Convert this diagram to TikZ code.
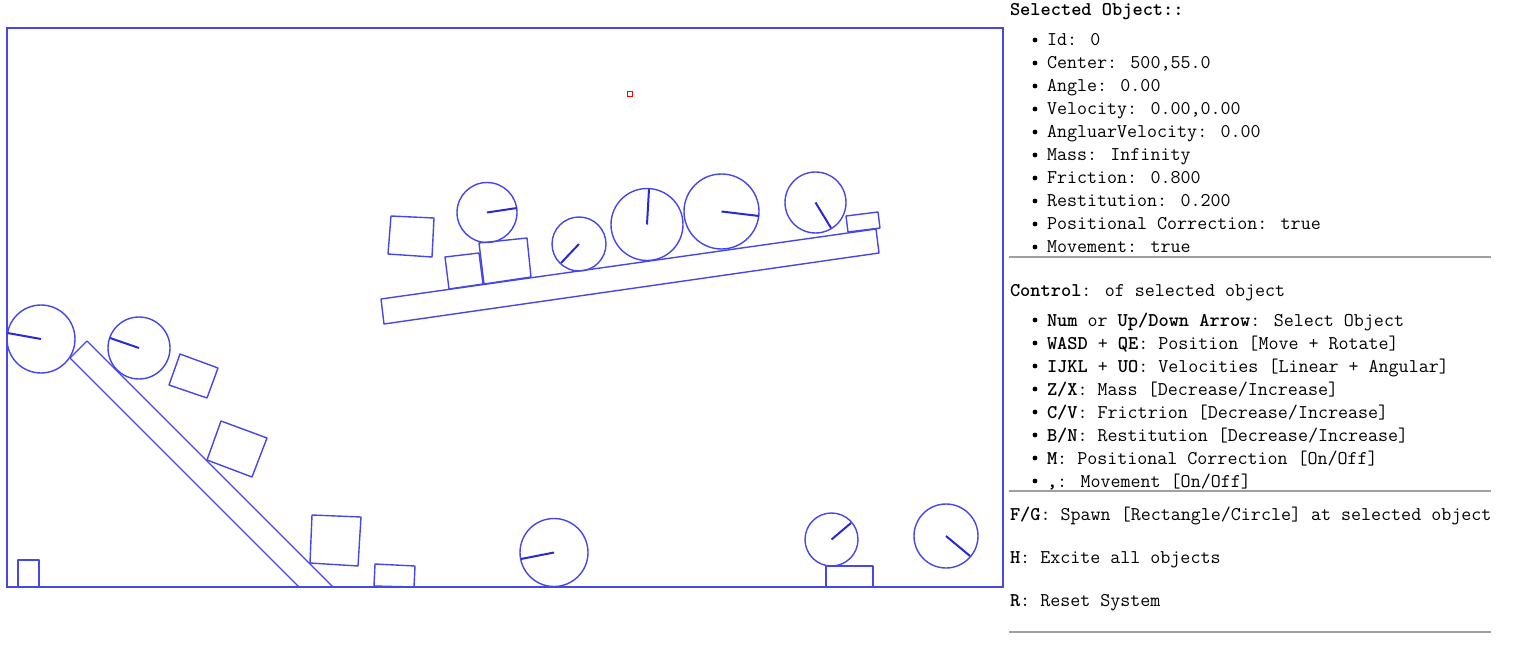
\documentclass[tikz,border=0pt]{standalone}
\usepackage{fontspec}
\definecolor{objblue}{RGB}{70,70,235}
\definecolor{radblue}{RGB}{40,40,215}
\definecolor{hrgray}{RGB}{160,160,160}
\tikzset{
  obj/.style={draw=objblue, line width=1.4pt, line join=round},
  radline/.style={draw=radblue, line width=2pt},
  frame/.style={draw=objblue, line width=1.8pt},
  hrule/.style={draw=hrgray, line width=1.2pt},
  txt/.style={anchor=base west, inner sep=0pt, outer sep=0pt, text=black,
    font=\ttfamily\fontsize{19.45}{23}\selectfont},
  bul/.style={fill=black, draw=none},
}
\begin{document}
\begin{tikzpicture}[x=1pt, y=-1pt]
\useasboundingbox (0,0) rectangle (1540,655);
% canvas frame
\draw[frame] (7,587) -- (7,28) -- (1003,28) -- (1003,587) -- cycle;

% ramp (clipped at floor)
\draw[obj] (299,587) -- (70,358) -- (87,341) -- (333,587);
% small square bottom-left
\draw[obj] (18,587) -- (18,560) -- (39,560) -- (39,587);
% squares along the ramp
\draw[obj] (180,354) -- (218,368) -- (207,398) -- (169,385) -- cycle;
\draw[obj] (221,421) -- (267,438) -- (252,477) -- (207,460) -- cycle;
\draw[obj] (312,515) -- (361,517) -- (358,566) -- (310,563) -- cycle;
\draw[obj] (375,564) -- (415,566) -- (414,587) -- (374,586) -- cycle;
% circles near ramp
\coordinate (c1) at (41,339);
\draw[obj] (c1) circle (34);
\coordinate (e1) at (7.5,333);
\draw[radline] (c1) -- (e1);
\coordinate (c2) at (139,348);
\draw[obj] (c2) circle (31);
\coordinate (e2) at (110,338);
\draw[radline] (c2) -- (e2);

% plank
\draw[obj] (381,299) -- (876,229) -- (879,253) -- (384,324) -- cycle;
% boxes on plank
\draw[obj] (391,216) -- (434,218) -- (432,257) -- (388,254) -- cycle;
\draw[obj] (445,257) -- (479,253) -- (483,284) -- (449,289) -- cycle;
\draw[obj] (479,243) -- (527,238) -- (531,277) -- (484,284) -- cycle;
\draw[obj] (846,216) -- (878,212) -- (880,228) -- (848,232) -- cycle;
% circles on plank
\coordinate (cB) at (487,212.5);
\draw[obj] (cB) circle (30);
\coordinate (eB) at (517,208);
\draw[radline] (cB) -- (eB);
\coordinate (cE) at (579,244);
\draw[obj] (cE) circle (27);
\coordinate (eE) at (561,263);
\draw[radline] (cE) -- (eE);
\coordinate (cF) at (647,224.5);
\draw[obj] (cF) circle (36);
\coordinate (eF) at (649,189);
\draw[radline] (cF) -- (eF);
\coordinate (cG) at (721.5,211.5);
\draw[obj] (cG) circle (37.5);
\coordinate (eG) at (759,216);
\draw[radline] (cG) -- (eG);
\coordinate (cH) at (815.5,202.5);
\draw[obj] (cH) circle (30.5);
\coordinate (eH) at (831,228);
\draw[radline] (cH) -- (eH);

% floor objects
\coordinate (cJ) at (554,552.5);
\draw[obj] (cJ) circle (34);
\coordinate (eJ) at (521,559);
\draw[radline] (cJ) -- (eJ);
\coordinate (cK) at (831.5,539.5);
\draw[obj] (cK) circle (26.5);
\coordinate (eK) at (851,523);
\draw[radline] (cK) -- (eK);
\draw[obj] (826,587) -- (826,566) -- (873,566) -- (873,587);
\coordinate (cM) at (946,536);
\draw[obj] (cM) circle (32);
\coordinate (eM) at (970,556);
\draw[radline] (cM) -- (eM);

% selection marker
\draw[red, line width=1pt] (627,92) rectangle (632,97);

% ---- right panel ----
\node[txt] (title) at (1010,16) {\bfseries Selected Object::};
\foreach \y/\t [count=\i] in {46/{Id: 0}, 69/{Center: 500,55.0}, 92/{Angle: 0.00},
  115/{Velocity: 0.00,0.00}, 138/{AngluarVelocity: 0.00}, 161/{Mass: Infinity},
  184/{Friction: 0.800}, 207/{Restitution: 0.200}, 230/{Positional Correction: true},
  253/{Movement: true}} {
  \fill[bul] (1035,\y-6) circle (2.4);
  \node[txt] (prop\i) at (1047,\y) {\t};
}
\coordinate (h1a) at (1009,257); \coordinate (h1b) at (1491,257);
\draw[hrule] (h1a) -- (h1b);

\node[txt] (ctrl) at (1010,296) {\textbf{Control}: of selected object};
\foreach \y/\t [count=\i] in {
  326/{\textbf{Num} or \textbf{Up/Down Arrow}: Select Object},
  349/{\textbf{WASD} + \textbf{QE}: Position [Move + Rotate]},
  372/{\textbf{IJKL} + \textbf{UO}: Velocities [Linear + Angular]},
  395/{\textbf{Z/X}: Mass [Decrease/Increase]},
  418/{\textbf{C/V}: Frictrion [Decrease/Increase]},
  441/{\textbf{B/N}: Restitution [Decrease/Increase]},
  464/{\textbf{M}: Positional Correction [On/Off]},
  487/{\textbf{,}: Movement [On/Off]}} {
  \fill[bul] (1035,\y-6) circle (2.4);
  \node[txt] (key\i) at (1047,\y) {\t};
}
\coordinate (h2a) at (1009,491); \coordinate (h2b) at (1491,491);
\draw[hrule] (h2a) -- (h2b);

\node[txt] (spawn) at (1010,520) {\textbf{F/G}: Spawn [Rectangle/Circle] at selected object};
\node[txt] (excite) at (1010,563) {\textbf{H}: Excite all objects};
\node[txt] (reset) at (1010,606) {\textbf{R}: Reset System};
\coordinate (h3a) at (1009,632); \coordinate (h3b) at (1491,632);
\draw[hrule] (h3a) -- (h3b);
\end{tikzpicture}
\end{document}
